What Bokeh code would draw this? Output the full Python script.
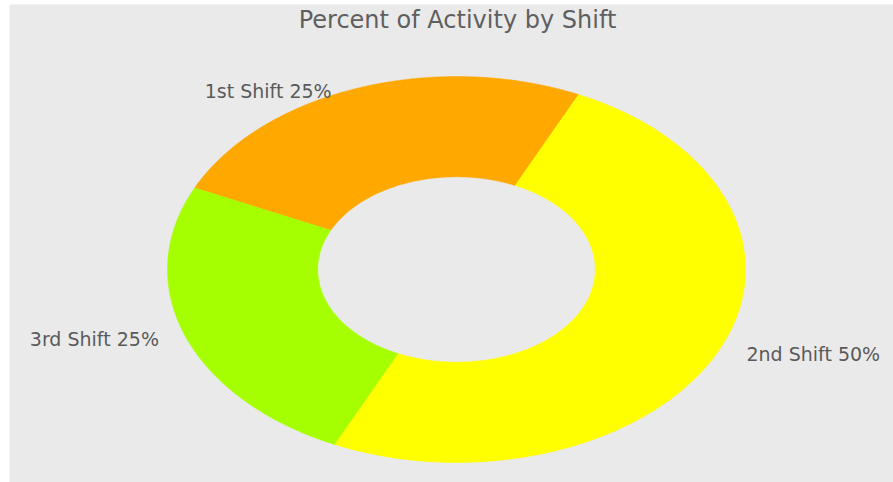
import numpy as np
from bokeh.plotting import figure
from bokeh.models import ColumnDataSource, Range1d
from bokeh.embed import file_html
from bokeh.resources import INLINE
from bokeh.core.properties import value

# ---- data ----
shifts = ["1st Shift", "2nd Shift", "3rd Shift"]
percents = [25, 50, 25]
colors = ["#FFA800", "#FFFF00", "#A6FF00"]
title_text = "Percent of Activity by Shift"

# ---- layout ----
W, H = 893, 482
BL, BT = 9, 4              # white strip left / top
FW, FH = W - BL, H - BT    # frame size
# pixel geometry of the (stretched) donut inside the frame
CX, CY = 456 - BL, 269 - BT
RX, RY = 289, 193          # outer radius in px (x, y)
OUTER, INNER = 1.0, 0.48
START_DEG = 155            # first slice starts here (math angle), clockwise

x0 = -CX / RX
x1 = (FW - CX) / RX
y1 = CY / RY
y0 = -(FH - CY) / RY

p = figure(width=W, height=H, output_backend="svg", toolbar_location=None,
           x_range=Range1d(x0, x1), y_range=Range1d(y0, y1),
           x_axis_type=None, y_axis_type=None,
           min_border=0, min_border_left=BL, min_border_top=BT)
p.grid.visible = False
p.outline_line_color = None
p.background_fill_color = "#EAEAEA"
p.border_fill_color = "white"

total = float(sum(percents))
start = np.deg2rad(START_DEG)
xs, ys, lx, ly, align, xoff, labels = [], [], [], [], [], [], []
cum = 0.0
for name, v in zip(shifts, percents):
    a0 = start - 2 * np.pi * cum / total
    a1 = start - 2 * np.pi * (cum + v) / total
    t = np.linspace(a0, a1, 240)
    xs.append(np.concatenate([OUTER * np.cos(t), INNER * np.cos(t[::-1])]))
    ys.append(np.concatenate([OUTER * np.sin(t), INNER * np.sin(t[::-1])]))
    mid = (a0 + a1) / 2
    mx, my = np.cos(mid), np.sin(mid)
    lx.append(OUTER * mx)
    ly.append(OUTER * my)
    align.append("right" if mx < 0 else "left")
    xoff.append(-26 if mx < 0 else 28)
    labels.append(f"{name} {v / total * 100:.0f}%")
    cum += v

src = ColumnDataSource(dict(xs=xs, ys=ys, color=colors))
p.patches("xs", "ys", source=src, fill_color="color", line_color="color", line_width=0.5)

lsrc = ColumnDataSource(dict(x=lx, y=ly, text=labels, align=align, xoff=xoff))
p.text("x", "y", text="text", source=lsrc, text_align="align", x_offset="xoff", y_offset=3,
       text_baseline="middle", text_font=value("DejaVu Sans"), text_font_size="19px",
       text_color="#5a5a5a")

tsrc = ColumnDataSource(dict(x=[(457 - 456) / RX], y=[(269 - 19) / RY], text=[title_text]))
p.text("x", "y", text="text", source=tsrc, text_align="center", text_baseline="middle",
       text_font=value("DejaVu Sans"), text_font_size="24px", text_color="#5f5f5f")

open("out.html", "w").write(file_html(p, INLINE))
